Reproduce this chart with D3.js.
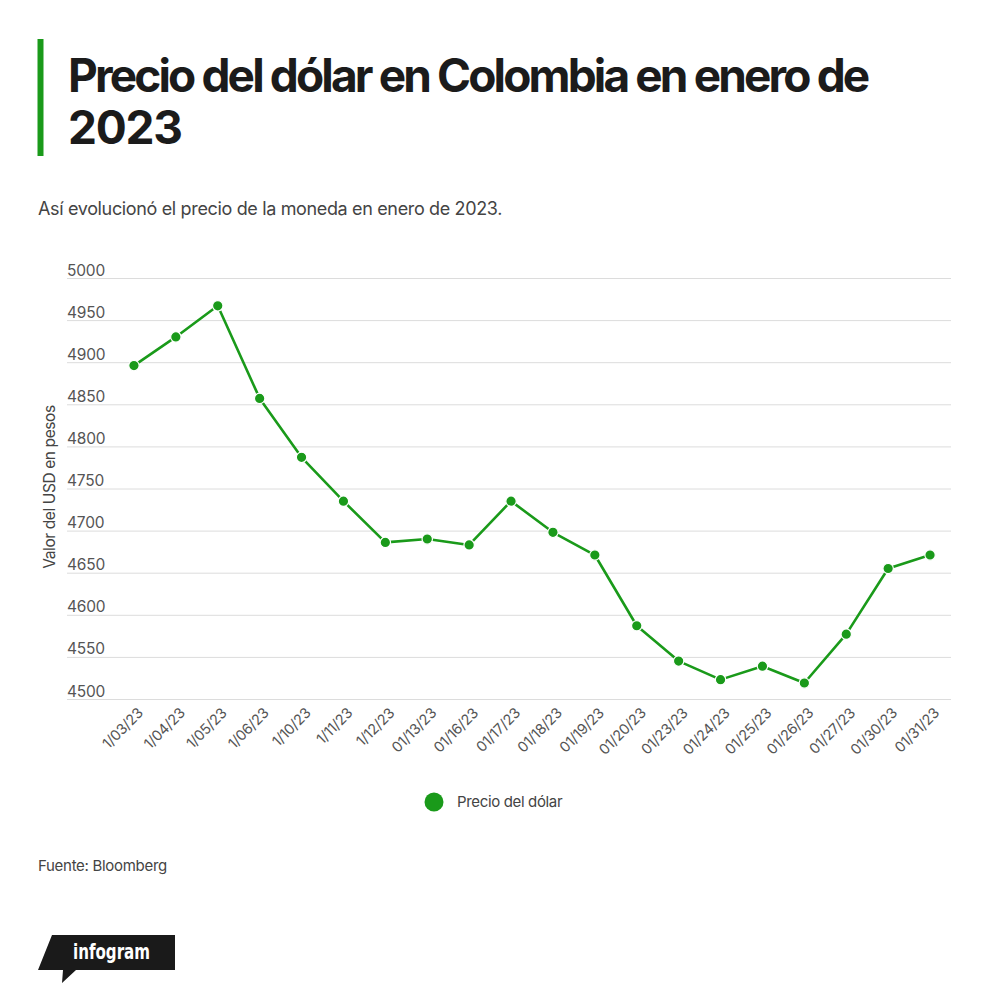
<!DOCTYPE html>
<html><head><meta charset="utf-8">
<script src="https://cdn.jsdelivr.net/npm/d3@7"></script>
<style>
html,body{margin:0;padding:0;background:#fff;}
svg{display:block;font-family:Inter,"Liberation Sans",Arial,sans-serif;}
</style></head>
<body>
<svg id="chart" width="1000" height="1003"></svg>
<script>
const dates = ["1/03/23","1/04/23","1/05/23","1/06/23","1/10/23","1/11/23","1/12/23","01/13/23","01/16/23","01/17/23","01/18/23","01/19/23","01/20/23","01/23/23","01/24/23","01/25/23","01/26/23","01/27/23","01/30/23","01/31/23"];
const prices = [4896,4930,4967,4857,4787,4735,4686,4690,4683,4735,4698,4671,4587,4545,4523,4539,4519,4577,4655,4671];
const yTicks = [4500,4550,4600,4650,4700,4750,4800,4850,4900,4950,5000];
const seriesName = "Precio del dólar";
const titleLines = ["Precio del dólar en Colombia en enero de","2023"];
const subtitle = "Así evolucionó el precio de la moneda en enero de 2023.";
const yTitle = "Valor del USD en pesos";
const source = "Fuente: Bloomberg";

const green = "#1a9a1a";
const svg = d3.select("#chart");

// Title block
svg.append("rect").attr("x",37.5).attr("y",39).attr("width",6).attr("height",117).attr("fill",green);
const tw = [801, null];
titleLines.forEach((t,i)=>{
  const el = svg.append("text").attr("x",68).attr("y",92+i*51.5)
    .attr("font-size",46).attr("font-weight",700).attr("fill","#1b1b1b")
    .attr("letter-spacing","-1.2px").text(t);
  if(tw[i]) el.attr("textLength",tw[i]).attr("lengthAdjust","spacing");
});
svg.append("text").attr("x",38).attr("y",215).attr("font-size",18).attr("fill","#444")
  .attr("letter-spacing","-0.35px").text(subtitle);

// Scales
const x = d3.scaleBand().domain(dates).range([113,951]);
const y = d3.scaleLinear().domain([4500,5000]).range([699,278]);

// Grid + y labels
const yAxis = svg.append("g").attr("transform","translate(951,0)")
  .call(d3.axisLeft(y).tickValues(yTicks).tickSize(951-67).tickFormat(d3.format("d")));
yAxis.select(".domain").remove();
yAxis.selectAll(".tick line").attr("stroke","#dcdcdc").attr("stroke-width",1);
yAxis.selectAll(".tick text").attr("x",-(951-67)).attr("dy",-3).attr("text-anchor","start")
  .attr("font-size",15.5).attr("fill","#555").attr("letter-spacing","-0.2px")
  .attr("font-family","Inter,'Liberation Sans',Arial,sans-serif");

// y title
svg.append("text").attr("transform","translate(55,487) rotate(-90)").attr("text-anchor","middle")
  .attr("font-size",15.5).attr("fill","#444").attr("letter-spacing","-0.4px").text(yTitle);

// x axis
const xAxis = svg.append("g").attr("transform","translate(0,699)")
  .call(d3.axisBottom(x).tickSize(0));
xAxis.select(".domain").remove();
xAxis.selectAll(".tick text")
  .attr("font-size",14.5).attr("fill","#555").attr("letter-spacing","-0.3px")
  .attr("font-family","Inter,'Liberation Sans',Arial,sans-serif")
  .attr("text-anchor","end").attr("dy",0).attr("y",0)
  .attr("transform","translate(10,15) rotate(-45)");

// line
const cx = d => x(d) + x.bandwidth()/2;
const line = d3.line().x((d,i)=>cx(dates[i])).y(d=>y(d));
svg.append("path").datum(prices).attr("d",line).attr("fill","none")
  .attr("stroke",green).attr("stroke-width",2.6).attr("stroke-linejoin","round");
svg.append("g").selectAll("circle").data(prices).join("circle")
  .attr("cx",(d,i)=>cx(dates[i])).attr("cy",d=>y(d)).attr("r",5.2)
  .attr("fill",green).attr("stroke","#fff").attr("stroke-width",1.2);

// legend
svg.append("circle").attr("cx",434).attr("cy",802).attr("r",9.5).attr("fill",green);
svg.append("text").attr("x",457).attr("y",807).attr("font-size",15).attr("fill","#444")
  .attr("letter-spacing","-0.35px").text(seriesName);

// source
svg.append("text").attr("x",38).attr("y",871).attr("font-size",15).attr("fill","#444")
  .attr("letter-spacing","-0.3px").text(source);

// infogram logo
svg.append("path").attr("d","M52,935 L175,935 L175,970 L76,970 L62,983 L63,970 L38,970 Z").attr("fill","#1a1a1a");
svg.append("text").attr("x",73).attr("y",959).attr("font-size",21).attr("font-weight",700)
  .attr("fill","#fff").attr("font-family","'DejaVu Sans Condensed','Liberation Sans Narrow',sans-serif")
  .attr("textLength",77).attr("lengthAdjust","spacingAndGlyphs").text("infogram");
</script>
</body></html>
